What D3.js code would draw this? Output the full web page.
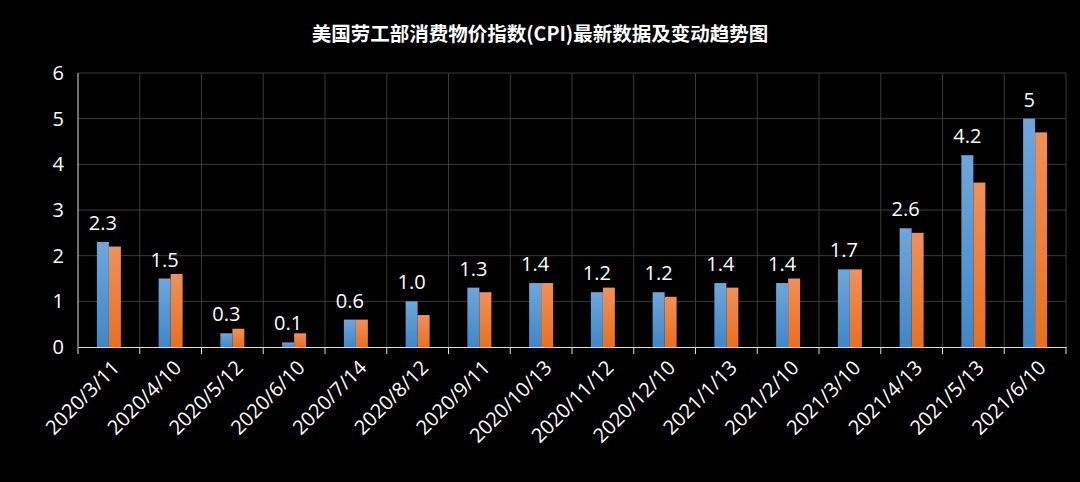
<!DOCTYPE html><html><head><meta charset="utf-8"><script src="https://cdn.jsdelivr.net/npm/d3@7"></script>
<style>body{margin:0;background:#000}svg{display:block}</style></head><body><svg id="c" width="1080" height="482"></svg><script>
const categories=["2020/3/11","2020/4/10","2020/5/12","2020/6/10","2020/7/14","2020/8/12","2020/9/11","2020/10/13","2020/11/12","2020/12/10","2021/1/13","2021/2/10","2021/3/10","2021/4/13","2021/5/13","2021/6/10"];
const cpi=[2.3,1.5,0.3,0.1,0.6,1.0,1.3,1.4,1.2,1.2,1.4,1.4,1.7,2.6,4.2,5.0];
const core=[2.2,1.6,0.4,0.3,0.6,0.7,1.2,1.4,1.3,1.1,1.3,1.5,1.7,2.5,3.6,4.7];
const labels=["2.3","1.5","0.3","0.1","0.6","1.0","1.3","1.4","1.2","1.2","1.4","1.4","1.7","2.6","4.2","5"];
const yTicks=[0,1,2,3,4,5,6];
const svg=d3.select("#c");
const L=78,R=1066,T=73,B=347;
const x=d3.scaleBand().domain(categories).range([L,R]);
const y=d3.scaleLinear().domain([0,6]).range([B,T]);
const defs=svg.append("defs");
function grad(id,c1,c2){const g=defs.append("linearGradient").attr("id",id).attr("x1",0).attr("x2",0).attr("y1",0).attr("y2",1);g.append("stop").attr("offset",0).attr("stop-color",c1);g.append("stop").attr("offset",1).attr("stop-color",c2);}
grad("gb","#6fa6dc","#3f87c9");grad("go","#f0905a","#e8701f");
svg.append("text").attr("x",540).attr("y",41).attr("text-anchor","middle").attr("fill","#fff").attr("font-size",19.5).attr("font-weight","bold").attr("font-family","Noto Sans CJK SC").text("美国劳工部消费物价指数(CPI)最新数据及变动趋势图");
svg.append("g").selectAll("line").data(yTicks.slice(1)).join("line").attr("x1",L).attr("x2",R).attr("y1",d=>y(d)).attr("y2",d=>y(d)).attr("stroke","#3a3a3a");
svg.append("g").selectAll("line").data(d3.range(1,categories.length+1)).join("line").attr("x1",i=>L+x.step()*i).attr("x2",i=>L+x.step()*i).attr("y1",T).attr("y2",B).attr("stroke","#3a3a3a");
svg.append("line").attr("x1",L).attr("x2",L).attr("y1",T).attr("y2",B).attr("stroke","#ddd");
const xa=svg.append("g").attr("transform",`translate(0,${B})`).call(d3.axisBottom(x).tickSize(0).tickFormat(""));
xa.select(".domain").attr("stroke","#ddd");
svg.append("g").selectAll("line").data(d3.range(categories.length+1)).join("line").attr("x1",i=>L+x.step()*i).attr("x2",i=>L+x.step()*i).attr("y1",B).attr("y2",B+7).attr("stroke","#ddd");
svg.append("g").selectAll("text").data(categories).join("text").attr("transform",d=>`translate(${x(d)+x.bandwidth()/2+12},${B+22}) rotate(-45)`).attr("text-anchor","end").attr("fill","#fff").attr("font-size",20).attr("font-family","Open Sans, sans-serif").text(d=>d);
svg.append("g").selectAll("text").data(yTicks).join("text").attr("x",L-14).attr("y",d=>y(d)+7).attr("text-anchor","end").attr("fill","#fff").attr("font-size",20).attr("font-family","Open Sans, sans-serif").text(d=>d);
const bw=12;
svg.append("g").selectAll("rect").data(cpi).join("rect").attr("x",(d,i)=>x(categories[i])+x.bandwidth()/2-bw).attr("width",bw).attr("y",d=>y(d)).attr("height",d=>B-y(d)).attr("fill","url(#gb)");
svg.append("g").selectAll("rect").data(core).join("rect").attr("x",(d,i)=>x(categories[i])+x.bandwidth()/2).attr("width",bw).attr("y",d=>y(d)).attr("height",d=>B-y(d)).attr("fill","url(#go)");
svg.append("g").selectAll("text").data(cpi).join("text").attr("x",(d,i)=>x(categories[i])+x.bandwidth()/2-6).attr("y",d=>y(d)-12).attr("text-anchor","middle").attr("fill","#fff").attr("font-size",20).attr("font-family","Open Sans, sans-serif").text((d,i)=>labels[i]);
</script></body></html>
